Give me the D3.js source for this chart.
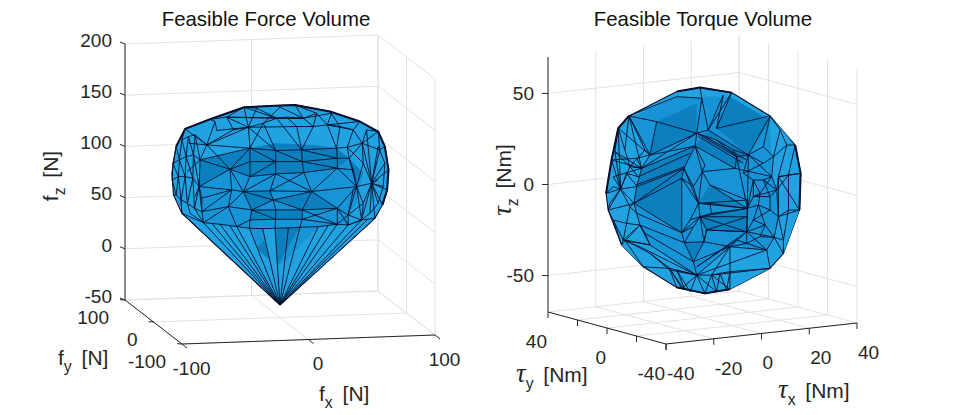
<!DOCTYPE html>
<html><head><meta charset="utf-8">
<script src="https://cdnjs.cloudflare.com/ajax/libs/d3/7.8.5/d3.min.js"></script>
<style>html,body{margin:0;padding:0;background:#fff}svg{display:block}text{font-family:"Liberation Sans",Arial,sans-serif;fill:#262626}</style>
</head><body><svg id="c" width="961" height="415"></svg>
<script>
// ---- Force volume data (hull vertices given as [fx, fz] on the fy = 0 plane)
const forceXTicks=[-100,0,100], forceYTicks=[-100,0,100], forceZTicks=[-50,0,50,100,150,200];
const forceOutline=[[-75,137.5],[-55.3,146],[-28.4,156.6],[0,157],[11.8,157.1],[39.5,149.4],[63.2,138.6],[77.6,128.2],[82.9,113.3],[85.8,90.4],[84.7,70.9],[81,56.4],[75,43.6],[0,-37.8],[-77.6,55.2],[-84.2,73.4],[-85.5,94.6],[-82.1,120.6]];
const forceInner=[null,[-51.3,143.6],[-50,134.8],[-25,136.9],[-13.2,140.3],[-2.6,144.7],[0,155.4],[18.4,143.8],[26.3,135.3],[37.4,136.5],[40.8,147.7],[-57.9,121.1],[-23.7,116.4],[-3.4,113.2],[17.1,112.9],[44.7,113.4],[53.2,113.9],[65,117.3],[-63.2,106.7],[-39.5,96.5],[-23.7,103.3],[-3.4,102.4],[17.6,101.5],[45.3,93.8],[45.3,103.5],[54.7,103.1],[-23.7,88.7],[-3.4,90.4],[18.9,90.7],[-63.9,80.7],[-38.2,76.3],[-28.9,74.2],[-7.9,74],[25,71.9],[60.5,75.2],[72.4,77.9],[-61.8,56.1],[-40.8,60.1],[-5.3,65],[-22.4,56],[-3.4,55.2],[17.6,54.3],[45.3,54.7],[53.9,47.8],[-60.5,45.3],[-34.2,40.3],[-23.7,46.3],[-3.4,46.1],[17.6,45.1],[45.3,39.1],[53.9,38],[64.5,42.4],[-3.9,37.3],[-24.2,38.2],[15.8,37.4],[-72.4,123.4],[-68.4,124.8],[-78.9,104.1],[-73.2,95.7],[-82.1,78.2],[-75,68.4],[-67.1,71],[-71.1,54.9],[78.9,110.2],[77.6,80.9],[null],[-47.4,43.1],[-13.7,37.4],[6.6,37.2],[30.3,37.4],[-3.9,120.4],[26.3,117.4],[65.8,88],[60.5,58.9],[-2.6,-0.2],[-18.4,18.4],
 [-84.7,104.4],[-85.3,88.1],[-82.1,73.3],[-77.6,126.9],[-79.5,107.4],[-80.3,91.1],[-78.2,68.3],[-72.4,129.9],[-74.2,110.4],[-75,90.9],[-73.2,64.8],[-67.1,131.3],[-68.4,111.8],[-68.9,89],[-67.6,59.6],[-42.1,147.5],[-36.8,134.9],[-18.4,155.2],[5.3,145.4],[13.2,135.9],[28.9,148.2],[47.4,134.4],[57.9,130.7]];
const forceExtra=[[68.4,130.2],[82.9,97],[81.6,74.3],[77.6,58.1],[71.1,48.7],[65.8,58.7],[57.9,72.1],[65.8,97.8],[77.6,113.5],[57.9,91.6],[-61.8,69.2],[-53.9,44.4],[-39.5,41.1],[-28.9,39.1],[-18.4,37.6],[23.7,37.4],[38.2,38.4],[60.5,41],[69.7,43.2],[6.6,7.5]];
const forceEdges=[[100,11],[101,1,2,3],[1,11],[3,11],[3,12],[3,4,5,7,8,9,15],[9,10,105],[4,12],[4,13],[5,14],[8,14],[102,3],[102,5],[103,6,4],[6,7],[104,7,10],[106,9],[11,12,13,14,15,16,17,107],[18,12],[11,18,29,36,44],[12,20,26],[20,21,22],[20,19,18],[19,29],[19,30],[19,31],[26,27,28,23,34],[26,31],[13,21,27,32],[14,22,28],[22,23],[14,24,25,16],[24,23],[15,24],[25,34],[34,35],[29,30,31,32,33,34],[32,38,31],[38,33],[38,40],[38,41],[38,39],[28,33,42],[33,41],[31,39],[30,37,36],[37,45],[37,39],[39,40,41,42,43,34],[39,46,47,48,49],[40,47,52],[41,48,54],[46,45],[46,53],[42,49],[43,50],[55,11],[58,18],[61,29],[35,17],[35,63],[35,109],[35,110],[35,111],[35,112],[35,51],[35,64],[17,63],[107,63,108],[34,51],[43,51],[50,51],[25,17],[114,44,66,45,53,67,52,68,54,69,49,50,51,112],[113,114],[113,44],[113,66],[113,45],[113,53],[113,67],[113,52],[113,68],[113,54],[113,69],[113,49],[113,50],[113,51],[113,112],
 [100,79,80,81,82,114],[83,84,85,86],[87,88,89,90],[117,76,77,78,115],[79,83,87,11],[76,80,84,88,18],[77,81,85,89,29],[78,82,86,90,36],[76,81],[80,85],[84,89],[88,29],[81,78],[85,82],[89,86],[29,90],[117,80],[79,84],[83,88],[87,18],[90,44],[86,62],[82,114],[62,44],
 [91,3],[91,5],[91,92,3],[92,11],[93,5],[93,3],[102,91],[101,91],[102,93],[94,5],[94,7],[94,95,14],[95,8],[96,8],[96,9],[96,7],[104,96],[105,97],[97,9],[97,15],[97,98,17],[98,16],[106,98],[98,9],[3,95],[91,7],
 [17,307,35],[307,34],[16,307],[25,309,34],[309,23],[300,17],[300,35],[107,300],[308,35],[308,301,302,303,304],[301,35],[302,35],[303,35],[304,35],[305,35],[305,34],[305,43],[305,51],[304,51],[306,34],[306,43],
 [19,26],[36,30],[31,27],[32,28],[27,33],[26,21],[12,21],[13,22],[22,24],[33,23],[39,47],[41,49],[48,42],[42,34],[42,50],[37,44],[11,19],[3,13],[12,19],[37,31],[43,49],[29,310,36],[310,30],
 [113,311],[113,312],[113,316],[113,318]];
const forceRim=[[117,100,101,102,103,104,105,106,107,108,109,110,111]];
const forceMid=[[18,12,70,71,15,25,72,73,43,50,69,319,74,75,53,45,44,36,29]];
const forceDark=[[18,12,70,71,15,25,23,28,27,26,19,29],[31,32,38,39],[38,41,42,33],[39,41,48,46],[52,54,74,75],[34,25,72]];
const forceLight=[[100,101,3,11],[6,4,5,7],[9,10,105,106],[35,17,63,64],[113,66,45],[113,67,52],[113,51,112],[2,3,11],[16,17,107,106]];
// ---- Torque volume data ([tx, tz] on the ty = 0 plane)
const torqueXTicks=[-40,-20,0,20,40], torqueYTicks=[-40,-20,0,20,40], torqueYLabels=[-40,0,40], torqueZTicks=[-50,0,50];
const torqueOutline=[[-30.8,45.1],[-10.8,55.6],[-1,56.4],[12.2,51.7],[28.3,36.6],[38.8,19.1],[41.1,3.2],[40.6,-16.8],[33.9,-39.7],[28.3,-47.1],[11.5,-56.2],[1,-56.9],[-10.8,-51.9],[-24.8,-38.6],[-33.9,-25.3],[-39.5,-5.3],[-40.4,4],[-38.1,22],[-35.3,39]];
const torqueInner=[null,[-2.4,31.5],[null],[-3.1,24.6],[-7.8,13],[-0.1,10.1],[14.3,16.2],[19.2,16.5],[13.6,9.9],[-22,22.4],[-25.5,15.6],[-28.7,-3.2],[-27.6,5.8],[-34.3,5.5],[-8.7,7.7],[-8.7,-22.2],[-7.6,-27.8],[0.6,-28.5],[-1.7,-7.1],[-1,-14.5],[3.1,2.3],[18.8,-12.8],[18.5,-25.6],[1.7,-22.2],[-2.4,-46.4],[-3.8,-38.8],[-26.2,-15.5],[-33.2,-22.7],[-22,-27],[-26.2,-27.4],[-13.6,-41.1],[-8.7,-52.8],[3.8,-47.3],[11.5,-32.8],[26.9,-36.8],[30,-30.3],[31.8,-19.2],[31.1,-4.5],[29,3.2],[23.4,-11.6],[26.2,-23],[35.3,19.6],[32.5,28.3],[31.8,2.7],[24.1,-5.3],[-19.2,40.3],[-0.3,50.4],[2.4,32.6],[8.7,50.9],[5.9,33],[null],[null],[null],[-37.4,12.7],[null],[null],[null],[null],[null],[null],[-30.4,43.8],[-10.8,52.8],[11.5,49.6],[28.3,34.4],[-2.4,48]];
const torqueExtra=[[-1.7,29.6],[17.1,12.2],[-0.3,30.3],[18.5,13.8],[-26.9,11.2],[-5.2,20.9],[-27.9,6.8],[-7.3,13.9],[-27.6,-8.8],[-24.1,-20.3],[-2.4,-41.8],[14.3,-29.5],[-3.8,2.4],[-5.2,-15.7],[-3.8,-19.6],[18.8,-8.2],[18.8,-17.4],[-27.6,21.4],[-36.7,26.4],[-37.4,-11.1],[-32.5,-22.8],[-22,-31.6],[-13.6,-42],[-7.3,-53.9],[-10.8,-42.4],[-5.2,-55.1],[5.9,-56.7],[7.3,-46.8],[10.1,-56.4],[11.5,-46.5],[-30.4,17.2],[-32.5,26.7],[-24.1,25.5],[-30.4,-4.8],[-31.8,-13.7],[-37.4,7.2],[-38.8,-1.7],[-31.8,13.7],[17.1,6.7],[21.3,2.4],[25.5,1.8],[21.3,-6.7],[28.3,-7.7],[28.3,-15.1],[21.3,-19.6],[24.1,-29.1],[18.5,-32],[36,3.1],[36,-16.2],[33.9,-32.4],[25.5,11],[29.7,14],[25.5,20.1],[5.9,26.6],[12.9,20.1],[3.1,-7.8],[3.8,-13.4],[1,13.6]];
const torqueEdges=[[100,45,1],[104,49],[100,61,46],[102,46,1],[48,49],[103,49],[103,47],[48,47],[46,47],[1,47],[45,9],[100,9],[9,1],[10,1],[100,10],[10,3],[9,3],[12,4],[11,14],[11,4],[4,3,1],[3,5],[4,14,15],[4,18],[18,19],[14,18],[5,18],[5,20],[5,8],[1,6],[47,7],[3,8],[104,7],[7,38],[6,8],[8,38],[6,7],[7,21],[6,21],[20,21],[18,21],[21,19],[22,19],[22,23],[21,22],[21,39,44,38],[39,40],[22,40,35,36,37,38],[37,43],[36,43],[43,41,105],[41,42,104],[43,106],[43,107],[36,107],[35,108],[35,34,109],[34,33],[22,34],[22,35],[15,11],[16,26],[11,26],[15,16,17],[15,19,17,33,24],[17,23,19],[22,33],[25,24],[25,16],[25,17],[24,28,26],[24,29,27,114],[27,28],[26,27],[30,24],[30,113],[30,31,112],[31,24],[24,111],[24,32,110],[32,111],[33,32],[24,34],[109,32],[13,116],[13,117],[13,115],[13,118],[13,11],[13,12],[13,53,10],[117,10],[118,9],[115,11],[114,26],[12,10],[11,12],[10,9],
 [300,301],[302,303],[304,305],[306,307],[308,15],[309,25],[26,309],[310,22],[310,311],[25,33],[311,346],[346,34],[4,312,18],[14,312],[3,357,5,312],[15,313,18],[16,314,19],[313,19],[314,15],[23,17],[23,22],[20,315],[18,315],[19,316],[23,316],[355,21],[356,21],[355,18],[356,19],[355,356],[315,21,316,22],
 [117,317,9],[317,10],[118,318,13],[318,10],[318,330],[330,13],[330,10],[330,304],[331,100],[331,330],[331,118],[332,100],[332,9],[332,330],[337,13],[337,304],[337,306],[335,13],[336,13],[335,116],[336,115],[13,333],[333,11],[333,308],[333,334],[334,26],[334,27],[319,334],[115,319],[319,27],[319,114],[320,27],[320,28],[320,321],[321,30],[321,322],[322,24],[113,320],[322,323],[322,112],[324,323],[324,24],[324,325],[24,325],[24,326],[32,326],[327,326],[327,328],[32,327],[327,329],[329,328],[329,110],[329,33],[329,109],[309,28],[309,26],
 [7,350,351,38],[7,338,339,340,38],[339,341,342,340],[21,341],[21,339],[341,44],[44,339],[342,37],[342,343],[343,36],[343,39],[39,344,40],[344,22],[344,343],[40,345,346,22],[345,35],[346,33],[347,37],[347,43],[347,105],[347,106],[347,348,107],[348,36],[348,349],[349,108],[349,35],[349,36],[42,351],[351,352,104],[352,7],[351,41],[350,338],[354,7],[354,6],[353,6],[353,354],[353,1],[37,341],[340,37]];
const torqueRim=[[116,117,118,100],[101,102,103],[105,106,107],[110,111,112]];
const torqueMid=[[60,61,62,63,38,37,36,35,34,33,24,28,26,11,10,9]];
const torqueDark=[[45,64,1,9],[49,62,63,7],[11,14,15],[18,21,20],[19,21,22,23],[12,4,14,11],[10,3,4,12],[47,7,8,3],[16,17,25]];
const torqueLight=[[105,106,43,41],[107,108,36],[42,104,105],[118,100,9,10],[113,114,27,28],[109,110,33,34],[31,112,30],[101,102,46]];

const palette={light:"#22a3e1",mid:"#1694d6",dark:"#0c80bf",edge:"#04102c",axis:"#262626",grid:"#e2e2e2"};
const svg=d3.select("#c");

function chart(o){
  const xh=d3.scaleLinear().domain(o.xLim).range([0,o.xVec[0]]), xv=d3.scaleLinear().domain(o.xLim).range([0,o.xVec[1]]);
  const yh=d3.scaleLinear().domain(o.yLim).range([0,o.yVec[0]]), yv=d3.scaleLinear().domain(o.yLim).range([0,o.yVec[1]]);
  const zv=d3.scaleLinear().domain(o.zLim).range([0,-o.zLen]);
  const P=(x,y,z)=>[o.org[0]+xh(x)+yh(y),o.org[1]+xv(x)+yv(y)+zv(z)];
  const [x0,x1]=o.xLim,[y0,y1]=o.yLim,[z0,z1]=o.zLim;
  const g=svg.append("g");
  const seg=(a,b,col)=>g.append("line").attr("x1",a[0]).attr("y1",a[1]).attr("x2",b[0]).attr("y2",b[1]).attr("stroke",col).attr("stroke-width",1);
  // grid
  o.xTicks.forEach(t=>{seg(P(t,y1,z0),P(t,y1,z1),palette.grid);seg(P(t,y0,z0),P(t,y1,z0),palette.grid);});
  o.yTicks.forEach(t=>{seg(P(x1,t,z0),P(x1,t,z1),palette.grid);seg(P(x0,t,z0),P(x1,t,z0),palette.grid);});
  o.zTicks.forEach(t=>{seg(P(x0,y1,t),P(x1,y1,t),palette.grid);seg(P(x1,y1,t),P(x1,y0,t),palette.grid);});
  // axes
  seg(P(x0,y1,z0),P(x0,y1,z1),palette.axis);seg(P(x0,y0,z0),P(x0,y1,z0),palette.axis);seg(P(x0,y0,z0),P(x1,y0,z0),palette.axis);
  o.xTicks.forEach(t=>{const a=P(t,y0,z0);seg(a,[a[0]+o.xTick[0],a[1]+o.xTick[1]],palette.axis);});
  o.yTicks.forEach(t=>{const a=P(x0,t,z0);seg(a,[a[0]+o.yTick[0],a[1]+o.yTick[1]],palette.axis);});
  o.zTicks.forEach(t=>{const a=P(x0,y1,t);seg(a,[a[0]+o.zTick[0],a[1]+o.zTick[1]],palette.axis);});
  // hull
  const V=i=>{const v=i>=300?o.extra[i-300]:i>=100?o.outline[i-100]:o.inner[i];return P(v[0],0,v[1]);};
  const line=d3.line();
  g.append("path").attr("d",line(o.outline.map(v=>P(v[0],0,v[1])))+"Z").attr("fill",palette.light).attr("stroke",palette.edge).attr("stroke-width",1.1);
  const fills=(list,col)=>g.append("g").selectAll("path").data(list).join("path").attr("d",d=>line(d.map(V))+"Z").attr("fill",col);
  fills(o.mid,palette.mid);fills(o.dark,palette.dark);fills(o.lightF,palette.light);
  g.append("g").selectAll("path").data(o.edges).join("path").attr("d",d=>line(d.map(V))).attr("fill","none").attr("stroke",palette.edge).attr("stroke-width",0.9).attr("stroke-linejoin","round");
  g.append("g").selectAll("path").data(o.rim).join("path").attr("d",d=>line(d.map(V))).attr("fill","none").attr("stroke",palette.edge).attr("stroke-width",2).attr("stroke-linejoin","round");
  // tick labels
  const lab=(s,x,y,anchor)=>g.append("text").attr("x",x).attr("y",y).attr("dy","0.36em").attr("text-anchor",anchor).attr("font-size",o.fs).text(s);
  o.xLabels.forEach(t=>{const a=P(t,y0,z0);lab(t,a[0]+o.xOff[0],a[1]+o.xOff[1],o.xAnchor);});
  o.yLabels.forEach(t=>{const a=P(x0,t,z0);lab(t,a[0]+o.yOff[0],a[1]+o.yOff[1],"end");});
  o.zTicks.forEach(t=>{const a=P(x0,y1,t);lab(t,a[0]+o.zOff[0],a[1]+o.zOff[1],"end");});
  // title and axis labels
  g.append("text").attr("x",o.title[1]).attr("y",26).attr("text-anchor","middle").attr("font-size",o.tfs).style("fill","#111").text(o.title[0]);
  const rich=(spec,x,y,rot)=>{
    const t=g.append("text").attr("font-size",o.lfs).attr("transform",`translate(${x},${y})`+(rot?" rotate(-90)":""));
    if(rot)t.attr("text-anchor","middle");
    const sym=t.append("tspan").text(spec[0]);
    if(spec[0]==="τ")sym.attr("font-family","Liberation Serif").attr("font-style","italic").attr("font-size",o.lfs*1.28);
    t.append("tspan").attr("font-size",o.lfs*0.75).attr("dy",7).text(spec[1]);
    t.append("tspan").attr("dy",-7).attr("dx",o.lgap).text(" "+spec[2]);
  };
  rich(o.xl,o.xlPos[0],o.xlPos[1],false);rich(o.yl,o.ylPos[0],o.ylPos[1],false);rich(o.zl,o.zlPos[0],o.zlPos[1],true);
}

chart({xLim:[-100,100],yLim:[-100,100],zLim:[-50,200],org:[182,344],xVec:[253,-9],yVec:[-57,-44],zLen:256,
 xTicks:forceXTicks,yTicks:forceYTicks,zTicks:forceZTicks,xLabels:forceXTicks,yLabels:forceYTicks,
 xTick:[5,4],yTick:[-5,-0.3],zTick:[-5,-2],xOff:[9.5,24],yOff:[-16,17.5],zOff:[-13,-4],xAnchor:"middle",fs:19,tfs:20.4,lfs:21,lgap:4,
 outline:forceOutline,inner:forceInner,extra:forceExtra,edges:forceEdges,rim:forceRim,mid:forceMid,dark:forceDark,lightF:forceLight,
 title:["Feasible Force Volume",266],xl:["f","x","[N]"],yl:["f","y","[N]"],zl:["f","z","[N]"],xlPos:[319,401],ylPos:[58,365],zlPos:[58,176]});
chart({xLim:[-40,40],yLim:[-40,40],zLim:[-70,70],org:[666,344],xVec:[191,-21],yVec:[-118,-32],zLen:255,
 xTicks:torqueXTicks,yTicks:torqueYTicks,zTicks:torqueZTicks,xLabels:torqueXTicks,yLabels:torqueYLabels,
 xTick:[0,6],yTick:[0,6],zTick:[-6,0],xOff:[1,29],yOff:[-1,29],zOff:[-14,0],xAnchor:"start",fs:19,tfs:20.4,lfs:21,lgap:4,
 outline:torqueOutline,inner:torqueInner,extra:torqueExtra,edges:torqueEdges,rim:torqueRim,mid:torqueMid,dark:torqueDark,lightF:torqueLight,
 title:["Feasible Torque Volume",703],xl:["τ","x","[Nm]"],yl:["τ","y","[Nm]"],zl:["τ","z","[Nm]"],xlPos:[778,398],ylPos:[516,382],zlPos:[511,180]});
</script></body></html>
